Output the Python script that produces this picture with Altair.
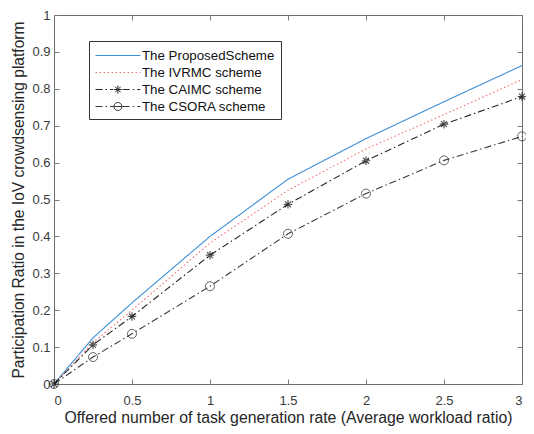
import altair as alt
import pandas as pd

# ---------------- data ----------------
x_vals = [0, 0.25, 0.5, 1, 1.5, 2, 2.5, 3]
proposed = [0, 0.125, 0.22, 0.400, 0.555, 0.665, 0.765, 0.863]
ivrmc = [0, 0.112, 0.200, 0.382, 0.525, 0.637, 0.730, 0.825]
caimc = [0, 0.106, 0.183, 0.349, 0.487, 0.605, 0.704, 0.779]
csora = [0, 0.073, 0.136, 0.265, 0.407, 0.516, 0.606, 0.671]
series_names = ["The ProposedScheme", "The IVRMC scheme", "The CAIMC scheme", "The CSORA scheme"]
x_ticks = [0, 0.5, 1, 1.5, 2, 2.5, 3]
y_ticks = [0, 0.1, 0.2, 0.3, 0.4, 0.5, 0.6, 0.7, 0.8, 0.9, 1]

rows = []
for name, vals in zip(series_names, [proposed, ivrmc, caimc, csora]):
    for xv, yv in zip(x_vals, vals):
        rows.append({"x": xv, "y": yv, "series": name})
df = pd.DataFrame(rows)

# ---------------- styles ----------------
FONT = "Arial, Liberation Sans, Helvetica, sans-serif"
colors = ["#3d8fd6", "#f26b6b", "#262626", "#3a3a3a"]
dashes = [[1, 0], [1.5, 2.5], [7, 3, 1.5, 3], [7, 3, 1.5, 3]]

UNIT = 8.0  # px per path unit for legend symbol size 256


def dash_path(pattern_px, start, end):
    pat = [p / UNIT for p in pattern_px]
    segs = []
    pos = start
    i = 0
    while pos < end - 1e-6:
        length = pat[i % len(pat)]
        if i % 2 == 0:
            segs.append(f"M{pos:.3f},0L{min(pos + length, end):.3f},0")
        pos += length
        i += 1
    return "".join(segs)


L0, L1, MC = -1.0, 4.6, 1.8
asterisk_leg = (f"M{MC},-0.5L{MC},0.5M{MC-0.5},0L{MC+0.5},0"
                f"M{MC-0.35},-0.35L{MC+0.35},0.35M{MC-0.35},0.35L{MC+0.35},-0.35")
circle_leg = f"M{MC-0.5},0A0.5,0.5 0 1,1 {MC+0.5},0A0.5,0.5 0 1,1 {MC-0.5},0"
legend_shapes = [
    f"M{L0},0L{L1},0",
    dash_path([1.5, 2.5], L0, L1),
    dash_path([7, 3, 1.5, 3], L0, MC - 0.6) + dash_path([7, 3, 1.5, 3], MC + 0.6, L1) + asterisk_leg,
    dash_path([7, 3, 1.5, 3], L0, MC - 0.6) + f"M{MC-0.6},0L{MC+0.6},0" + dash_path([7, 3, 1.5, 3], MC + 0.6, L1) + circle_leg,
]
asterisk = "M0,-1L0,1M-1,0L1,0M-0.7,-0.7L0.7,0.7M-0.7,0.7L0.7,-0.7"

x_scale = alt.Scale(domain=[0, 3], nice=False)
y_scale = alt.Scale(domain=[0, 1], nice=False)
color_scale = alt.Scale(domain=series_names, range=colors)

tick_color = "#7a7a7a"
lab_color = "#3a3a3a"

x_axis_main = alt.Axis(values=x_ticks, format="~g", orient="bottom", offset=-5, tickSize=5, domain=False,
                       grid=False, tickColor=tick_color, labelPadding=10, labelFontSize=13,
                       labelColor=lab_color, title="Offered number of task generation rate (Average workload ratio)",
                       titleFontSize=15.8, titleFontWeight="normal", titleColor="#262626", titlePadding=3)
y_axis_main = alt.Axis(values=y_ticks, format="~g", orient="left", offset=-5, tickSize=5, domain=False,
                       grid=False, tickColor=tick_color, labelPadding=4, labelFontSize=13,
                       labelColor=lab_color, title="Participation Ratio in the IoV crowdsensing platform",
                       titleFontSize=15.6, titleFontWeight="normal", titleColor="#262626", titlePadding=5)
x_axis_top = alt.Axis(values=x_ticks, orient="top", offset=-5, tickSize=5, domain=False, grid=False,
                      tickColor=tick_color, labels=False, title=None)
y_axis_right = alt.Axis(values=y_ticks, orient="right", offset=-5, tickSize=5, domain=False, grid=False,
                        tickColor=tick_color, labels=False, title=None)

lines = alt.Chart(df).mark_line(strokeWidth=1.1).encode(
    x=alt.X("x:Q", scale=x_scale, axis=x_axis_main),
    y=alt.Y("y:Q", scale=y_scale, axis=y_axis_main),
    color=alt.Color("series:N", scale=color_scale, legend=None),
    strokeDash=alt.StrokeDash("series:N", scale=alt.Scale(domain=series_names, range=dashes), legend=None),
    detail="series:N",
)

pts_caimc = alt.Chart(df).transform_filter(alt.datum.series == series_names[2]).mark_point(
    filled=False, strokeWidth=1.2, color="#111111", size=72
).encode(
    x=alt.X("x:Q", scale=x_scale, axis=None),
    y=alt.Y("y:Q", scale=y_scale, axis=None),
    shape=alt.value(asterisk),
)

pts_csora = alt.Chart(df).transform_filter(alt.datum.series == series_names[3]).mark_point(
    filled=False, strokeWidth=1, color="#222222", size=81
).encode(
    x=alt.X("x:Q", scale=x_scale, axis=None),
    y=alt.Y("y:Q", scale=y_scale, axis=None),
    shape=alt.value("circle"),
)

leg = alt.Legend(title=None, orient="none", legendX=35, legendY=26,
                 symbolSize=256, symbolStrokeWidth=1, symbolOpacity=1,
                 labelOffset=30, rowPadding=2, padding=6,
                 labelFontSize=13.3, labelColor="#111111", labelFont=FONT,
                 strokeColor="#333333", fillColor="white")

legend_layer = alt.Chart(df).mark_point(filled=False, opacity=0).encode(
    x=alt.X("x:Q", scale=x_scale, axis=x_axis_top),
    y=alt.Y("y:Q", scale=y_scale, axis=y_axis_right),
    color=alt.Color("series:N", scale=color_scale, legend=leg),
    shape=alt.Shape("series:N", scale=alt.Scale(domain=series_names, range=legend_shapes), legend=leg),
)

chart = alt.layer(lines, pts_caimc, pts_csora, legend_layer).resolve_axis(
    x="independent", y="independent"
).resolve_legend(
    color="independent", shape="independent", strokeDash="independent"
).properties(
    width=468, height=369,
    autosize=alt.AutoSizeParams(type="none"),
    padding={"left": 46, "top": 7, "right": 4, "bottom": 42},
).configure(
    font=FONT,
    background="white",
).configure_view(
    stroke="#6e6e6e", strokeWidth=1,
)

chart.save("out.html", embed_options={"renderer": "svg", "actions": False})
